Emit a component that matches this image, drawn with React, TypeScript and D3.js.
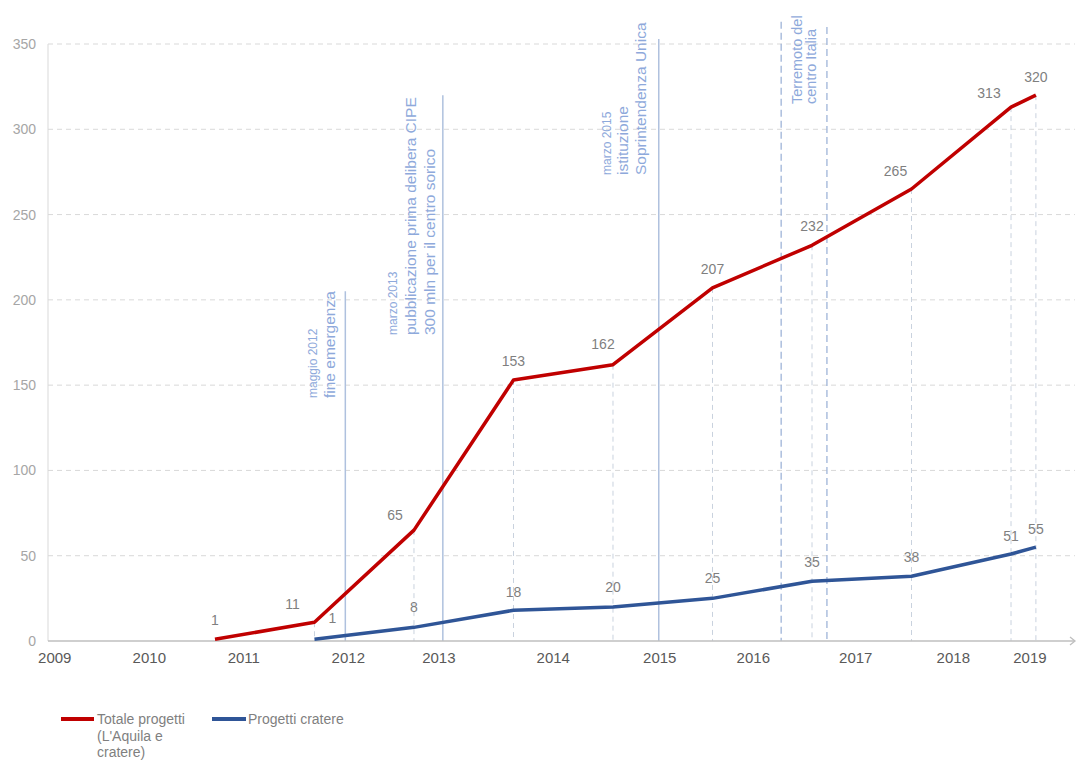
import React from "react";
import * as d3 from "d3";

// ---- data ----
const totaleT = [2011, 2012, 2013, 2014, 2015, 2016, 2017, 2018, 2019, 2019.25];
const totaleV = [1, 11, 65, 153, 162, 207, 232, 265, 313, 320];
const cratereT = [2012, 2013, 2014, 2015, 2016, 2017, 2018, 2019, 2019.25];
const cratereV = [1, 8, 18, 20, 25, 35, 38, 51, 55];

const yTicks = [0, 50, 100, 150, 200, 250, 300, 350];
const xTickLabels = ["2009", "2010", "2011", "2012", "2013", "2014", "2015", "2016", "2017", "2018", "2019"];
const xTickAt = [2009.39, 2010.34, 2011.29, 2012.34, 2013.25, 2014.4, 2015.47, 2016.41, 2017.44, 2018.42, 2019.19];

// events: position (data x), top of line (data y), dashed?, lines of text
const eventT = [2012.31, 2013.29, 2015.46, 2016.69, 2017.15];
const eventTop = [205, 320, 353, 363, 360];
const eventDashed = [false, false, false, true, true];

// label nudges (px)
const totaleDx = [0, -22, -19, 0, -10, 0, 0, -16, -22, 0];
const totaleDy = [-19, -18, -15, -19, -21, -19, -19, -18, -14, -18];
const cratereDx = [18, 0, 0, 0, 0, 0, 0, 0, 0];
const cratereDy = [-21, -20, -18, -20, -20, -19, -19, -18, -18];

const W = 1080;
const H = 760;
const x0 = 48;
const x1 = 1075;
const yBase = 641;
const yTop = 44;

const FONT = "'Liberation Sans', Arial, Helvetica, sans-serif";
const RED = "#C00000";
const BLUE = "#2F5597";
const LBL = "#7f7f7f";
const ANN = "#8EA9DB";
const ANNLINE = "#AFC1DE";

export default function App() {
  const x = d3.scaleLinear().domain([2009.322, 2019.643]).range([x0, x1]);
  const y = d3.scaleLinear().domain([0, 350]).range([yBase, yTop]);

  const lineGen = d3
    .line<[number, number]>()
    .x((d) => x(d[0]))
    .y((d) => y(d[1]));

  const totPts: [number, number][] = totaleT.map((t, i) => [t, totaleV[i]]);
  const crPts: [number, number][] = cratereT.map((t, i) => [t, cratereV[i]]);

  const annText = (
    cx: number,
    bottom: number,
    lines: { t: string; size: number; dx: number }[]
  ) =>
    lines.map((l, i) => (
      <text
        key={i}
        transform={`translate(${cx + l.dx},${bottom}) rotate(-90)`}
        fontSize={l.size}
        fill={ANN}
        fontFamily={FONT}
      >
        {l.t}
      </text>
    ));

  return (
    <svg
      width={W}
      height={H}
      style={{ position: "absolute", left: 0, top: 0, background: "#fff" }}
      fontFamily={FONT}
    >
      {/* gridlines */}
      {yTicks.filter((v) => v > 0).map((v) => (
        <line
          key={v}
          x1={x0}
          x2={x1}
          y1={y(v)}
          y2={y(v)}
          stroke="#d9d9d9"
          strokeWidth={1}
          strokeDasharray="5,4"
        />
      ))}
      {/* y axis */}
      <line x1={x0} x2={x0} y1={yTop} y2={yBase} stroke="#d9d9d9" strokeWidth={1} />
      {yTicks.map((v) => (
        <text
          key={v}
          x={36}
          y={y(v)}
          textAnchor="end"
          dominantBaseline="central"
          fontSize={14}
          fill="#a6a6a6"
        >
          {v}
        </text>
      ))}

      {/* drop lines */}
      {totPts.slice(1).map((p, i) => (
        <line
          key={i}
          x1={x(p[0])}
          x2={x(p[0])}
          y1={y(p[1])}
          y2={yBase}
          stroke="#c9d2de"
          strokeWidth={1}
          strokeDasharray="5,4"
        />
      ))}

      {/* event lines */}
      {eventT.map((t, i) => (
        <line
          key={i}
          x1={x(t)}
          x2={x(t)}
          y1={y(eventTop[i])}
          y2={yBase}
          stroke={eventDashed[i] ? "#9fb4d8" : ANNLINE}
          strokeWidth={eventDashed[i] ? 1.3 : 1.5}
          strokeDasharray={eventDashed[i] ? "7,4" : undefined}
        />
      ))}

      {/* event texts */}
      {annText(x(eventT[0]), 398, [
        { t: "maggio 2012", size: 12, dx: -28 },
        { t: "fine emergenza", size: 15.5, dx: -10 },
      ])}
      {annText(x(eventT[1]), 335, [
        { t: "marzo 2013", size: 12, dx: -46 },
        { t: "pubblicazione prima delibera CIPE", size: 15.5, dx: -27 },
        { t: "300 mln per il centro sorico", size: 15.5, dx: -8 },
      ])}
      {annText(x(eventT[2]), 175, [
        { t: "marzo 2015", size: 12, dx: -48 },
        { t: "istituzione", size: 15.5, dx: -31 },
        { t: "Soprintendenza Unica", size: 15.5, dx: -13 },
      ])}
      {annText(x(eventT[3]), 104, [
        { t: "Terremoto del", size: 14.5, dx: 21 },
        { t: "centro Italia", size: 14.5, dx: 35 },
      ])}

      {/* x axis */}
      <line x1={x0} x2={x1} y1={yBase} y2={yBase} stroke="#bfbfbf" strokeWidth={1.5} />
      <path
        d={`M${x1 - 5},${yBase - 4} L${x1},${yBase} L${x1 - 5},${yBase + 4}`}
        fill="none"
        stroke="#bfbfbf"
        strokeWidth={1.3}
      />
      {xTickLabels.map((lab, i) => (
        <text
          key={lab}
          x={x(xTickAt[i])}
          y={657}
          textAnchor="middle"
          dominantBaseline="central"
          fontSize={15}
          fill="#595959"
        >
          {lab}
        </text>
      ))}

      {/* series */}
      <path d={lineGen(crPts) || ""} fill="none" stroke={BLUE} strokeWidth={3.5} strokeLinejoin="round" />
      <path d={lineGen(totPts) || ""} fill="none" stroke={RED} strokeWidth={3.5} strokeLinejoin="round" />

      {/* value labels */}
      {totPts.map((p, i) => (
        <text
          key={"t" + i}
          x={x(p[0]) + totaleDx[i]}
          y={y(p[1]) + totaleDy[i]}
          textAnchor="middle"
          dominantBaseline="central"
          fontSize={14}
          fill={LBL}
        >
          {p[1]}
        </text>
      ))}
      {crPts.map((p, i) => (
        <text
          key={"c" + i}
          x={x(p[0]) + cratereDx[i]}
          y={y(p[1]) + cratereDy[i]}
          textAnchor="middle"
          dominantBaseline="central"
          fontSize={14}
          fill={LBL}
        >
          {p[1]}
        </text>
      ))}

      {/* legend */}
      <line x1={61} x2={94} y1={719} y2={719} stroke={RED} strokeWidth={4} />
      <text x={97} y={724} fontSize={14} fill={LBL}>
        <tspan x={97} y={724}>Totale progetti</tspan>
        <tspan x={97} y={741}>(L'Aquila e</tspan>
        <tspan x={97} y={757}>cratere)</tspan>
      </text>
      <line x1={212} x2={246} y1={719} y2={719} stroke={BLUE} strokeWidth={4} />
      <text x={248} y={724} fontSize={14} fill={LBL}>
        Progetti cratere
      </text>
    </svg>
  );
}
